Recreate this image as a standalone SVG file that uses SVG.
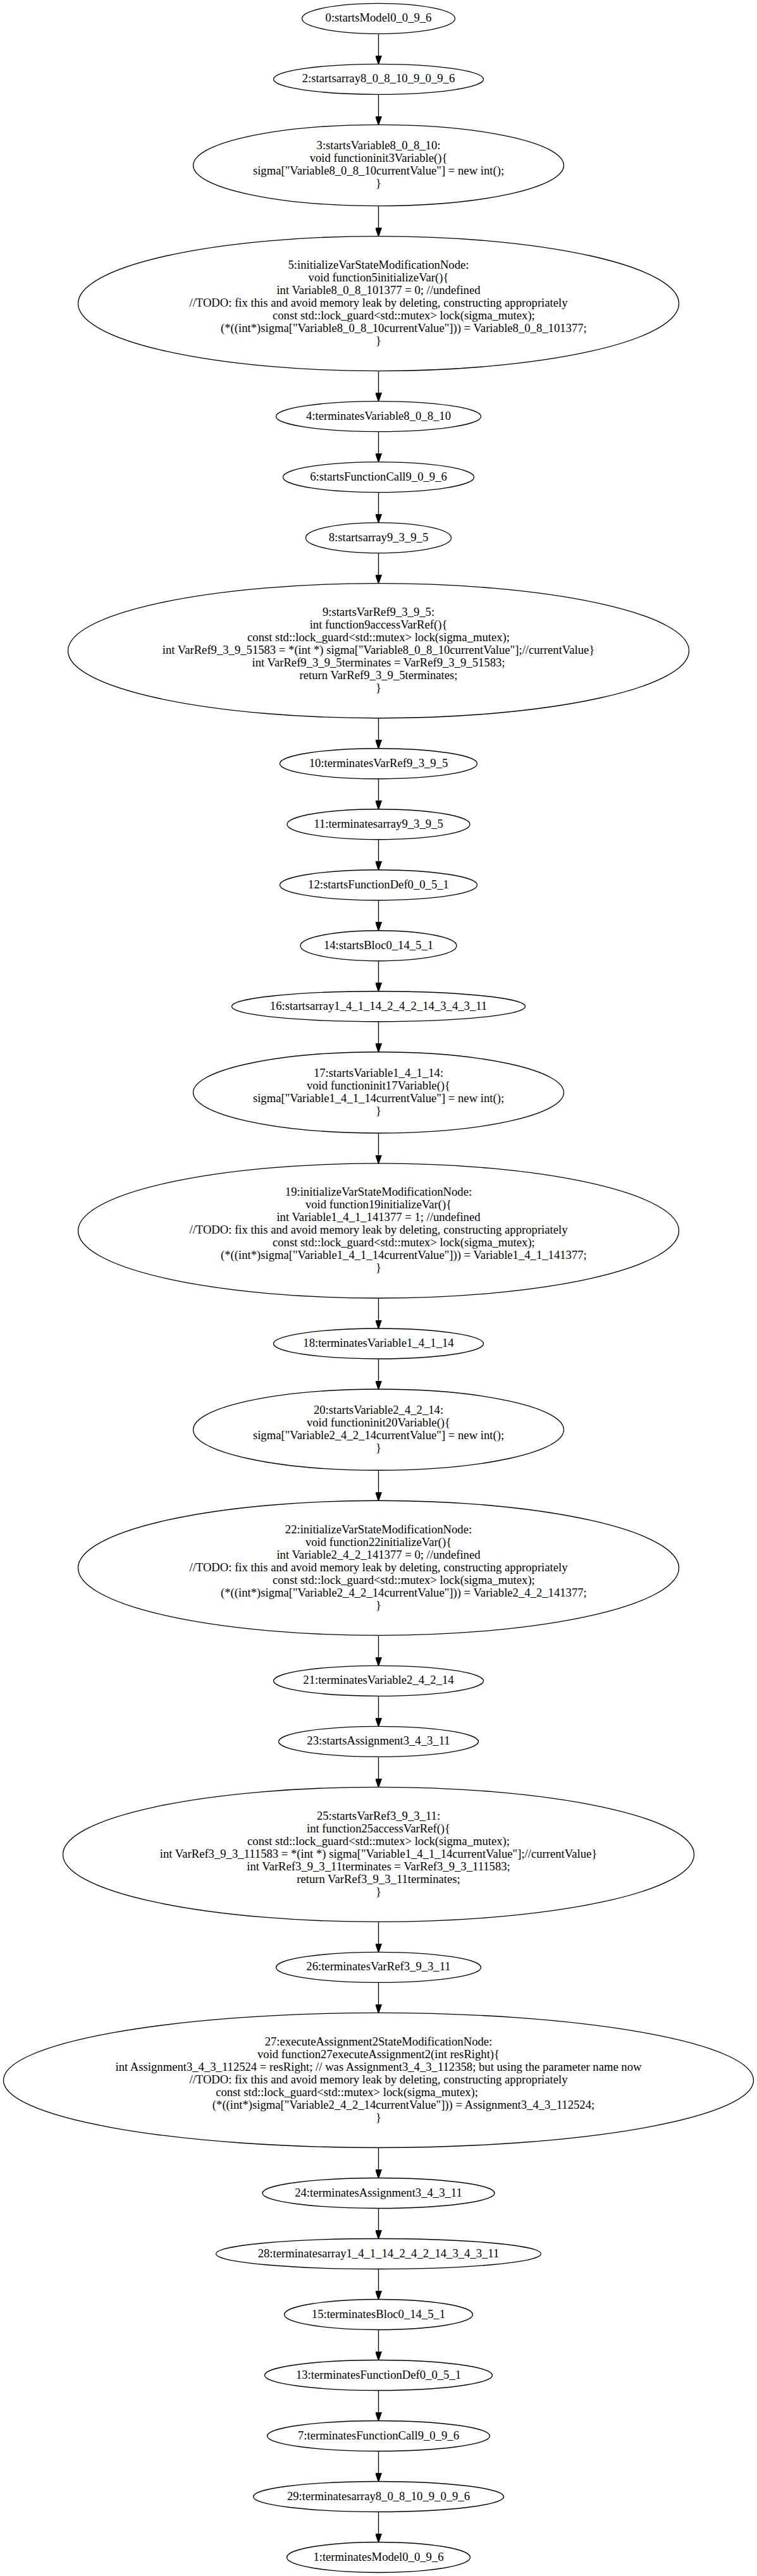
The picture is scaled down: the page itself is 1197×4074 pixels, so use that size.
<svg xmlns="http://www.w3.org/2000/svg" width="1197" height="4074" viewBox="0 0 1197 4074" xml:space="preserve">
<style>
.n ellipse{fill:none;stroke:#000;stroke-width:1.33}
.n text{font-family:"Liberation Serif","Times New Roman",Times,serif;font-size:18.67px;text-anchor:middle;fill:#000}
#edges line{stroke:#000;stroke-width:1.33}
</style>
<defs>
<marker id="ah" markerUnits="userSpaceOnUse" markerWidth="14" markerHeight="10" refX="0" refY="4.67" orient="auto" viewBox="0 0 13.33 9.33">
<path d="M0,0 L13.33,4.67 L0,9.33 Z" fill="#000" stroke="#000" stroke-width="1"/>
</marker>
</defs>
<rect width="1197" height="4074" fill="#fff"/>
<g id="edges">
<line x1="598.5" y1="53.33" x2="598.5" y2="88" marker-end="url(#ah)"/>
<line x1="598.5" y1="149.33" x2="598.5" y2="184" marker-end="url(#ah)"/>
<line x1="598.5" y1="325.56" x2="598.5" y2="360.23" marker-end="url(#ah)"/>
<line x1="598.5" y1="586.64" x2="598.5" y2="621.31" marker-end="url(#ah)"/>
<line x1="598.5" y1="682.64" x2="598.5" y2="717.31" marker-end="url(#ah)"/>
<line x1="598.5" y1="778.64" x2="598.5" y2="813.31" marker-end="url(#ah)"/>
<line x1="598.5" y1="874.64" x2="598.5" y2="909.31" marker-end="url(#ah)"/>
<line x1="598.5" y1="1135.72" x2="598.5" y2="1170.39" marker-end="url(#ah)"/>
<line x1="598.5" y1="1231.72" x2="598.5" y2="1266.39" marker-end="url(#ah)"/>
<line x1="598.5" y1="1327.72" x2="598.5" y2="1362.39" marker-end="url(#ah)"/>
<line x1="598.5" y1="1423.72" x2="598.5" y2="1458.39" marker-end="url(#ah)"/>
<line x1="598.5" y1="1519.72" x2="598.5" y2="1554.39" marker-end="url(#ah)"/>
<line x1="598.5" y1="1615.72" x2="598.5" y2="1650.39" marker-end="url(#ah)"/>
<line x1="598.5" y1="1791.95" x2="598.5" y2="1826.62" marker-end="url(#ah)"/>
<line x1="598.5" y1="2053.03" x2="598.5" y2="2087.7" marker-end="url(#ah)"/>
<line x1="598.5" y1="2149.03" x2="598.5" y2="2183.7" marker-end="url(#ah)"/>
<line x1="598.5" y1="2325.26" x2="598.5" y2="2359.93" marker-end="url(#ah)"/>
<line x1="598.5" y1="2586.34" x2="598.5" y2="2621.01" marker-end="url(#ah)"/>
<line x1="598.5" y1="2682.34" x2="598.5" y2="2717.01" marker-end="url(#ah)"/>
<line x1="598.5" y1="2778.34" x2="598.5" y2="2813.01" marker-end="url(#ah)"/>
<line x1="598.5" y1="3039.42" x2="598.5" y2="3074.09" marker-end="url(#ah)"/>
<line x1="598.5" y1="3135.42" x2="598.5" y2="3170.09" marker-end="url(#ah)"/>
<line x1="598.5" y1="3396.5" x2="598.5" y2="3431.17" marker-end="url(#ah)"/>
<line x1="598.5" y1="3492.5" x2="598.5" y2="3527.17" marker-end="url(#ah)"/>
<line x1="598.5" y1="3588.5" x2="598.5" y2="3623.17" marker-end="url(#ah)"/>
<line x1="598.5" y1="3684.5" x2="598.5" y2="3719.17" marker-end="url(#ah)"/>
<line x1="598.5" y1="3780.5" x2="598.5" y2="3815.17" marker-end="url(#ah)"/>
<line x1="598.5" y1="3876.5" x2="598.5" y2="3911.17" marker-end="url(#ah)"/>
<line x1="598.5" y1="3972.5" x2="598.5" y2="4007.17" marker-end="url(#ah)"/>
</g>
<g id="node0" class="n"><ellipse cx="598.5" cy="29.33" rx="121" ry="24"/><text x="598.5" y="34.33">0:startsModel0_0_9_6</text></g>
<g id="node2" class="n"><ellipse cx="598.5" cy="125.33" rx="166" ry="24"/><text x="598.5" y="130.33">2:startsarray8_0_8_10_9_0_9_6</text></g>
<g id="node3" class="n"><ellipse cx="598.5" cy="261.45" rx="293" ry="64.12"/><text><tspan x="598.5" y="236.45">3:startsVariable8_0_8_10:</tspan><tspan x="598.5" y="256.45">void functioninit3Variable(){</tspan><tspan x="598.5" y="276.45">sigma["Variable8_0_8_10currentValue"] = new int();</tspan><tspan x="598.5" y="296.45">}</tspan></text></g>
<g id="node5" class="n"><ellipse cx="598.5" cy="480.1" rx="475" ry="106.54"/><text><tspan x="598.5" y="425.1">5:initializeVarStateModificationNode:</tspan><tspan x="598.5" y="445.1">void function5initializeVar(){</tspan><tspan x="598.5" y="465.1">int Variable8_0_8_101377 = 0; //undefined</tspan><tspan x="598.5" y="485.1">//TODO: fix this and avoid memory leak by deleting, constructing appropriately</tspan><tspan x="638.4" y="505.1">const std::lock_guard&lt;std::mutex&gt; lock(sigma_mutex);</tspan><tspan x="638.4" y="525.1">(*((int*)sigma["Variable8_0_8_10currentValue"])) = Variable8_0_8_101377;</tspan><tspan x="598.5" y="545.1">}</tspan></text></g>
<g id="node4" class="n"><ellipse cx="598.5" cy="658.64" rx="162" ry="24"/><text x="598.5" y="663.64">4:terminatesVariable8_0_8_10</text></g>
<g id="node6" class="n"><ellipse cx="598.5" cy="754.64" rx="151" ry="24"/><text x="598.5" y="759.64">6:startsFunctionCall9_0_9_6</text></g>
<g id="node8" class="n"><ellipse cx="598.5" cy="850.64" rx="115" ry="24"/><text x="598.5" y="855.64">8:startsarray9_3_9_5</text></g>
<g id="node9" class="n"><ellipse cx="598.5" cy="1029.18" rx="491" ry="106.54"/><text><tspan x="598.5" y="974.18">9:startsVarRef9_3_9_5:</tspan><tspan x="598.5" y="994.18">int function9accessVarRef(){</tspan><tspan x="598.5" y="1014.18">const std::lock_guard&lt;std::mutex&gt; lock(sigma_mutex);</tspan><tspan x="598.5" y="1034.18">int VarRef9_3_9_51583 = *(int *) sigma["Variable8_0_8_10currentValue"];//currentValue}</tspan><tspan x="598.5" y="1054.18">int VarRef9_3_9_5terminates =  VarRef9_3_9_51583;</tspan><tspan x="598.5" y="1074.18">return VarRef9_3_9_5terminates;</tspan><tspan x="598.5" y="1094.18">}</tspan></text></g>
<g id="node10" class="n"><ellipse cx="598.5" cy="1207.72" rx="156" ry="24"/><text x="598.5" y="1212.72">10:terminatesVarRef9_3_9_5</text></g>
<g id="node11" class="n"><ellipse cx="598.5" cy="1303.72" rx="144.5" ry="24"/><text x="598.5" y="1308.72">11:terminatesarray9_3_9_5</text></g>
<g id="node12" class="n"><ellipse cx="598.5" cy="1399.72" rx="156" ry="24"/><text x="598.5" y="1404.72">12:startsFunctionDef0_0_5_1</text></g>
<g id="node14" class="n"><ellipse cx="598.5" cy="1495.72" rx="123.5" ry="24"/><text x="598.5" y="1500.72">14:startsBloc0_14_5_1</text></g>
<g id="node16" class="n"><ellipse cx="598.5" cy="1591.72" rx="232" ry="24"/><text x="598.5" y="1596.72">16:startsarray1_4_1_14_2_4_2_14_3_4_3_11</text></g>
<g id="node17" class="n"><ellipse cx="598.5" cy="1727.84" rx="293" ry="64.12"/><text><tspan x="598.5" y="1702.84">17:startsVariable1_4_1_14:</tspan><tspan x="598.5" y="1722.84">void functioninit17Variable(){</tspan><tspan x="598.5" y="1742.84">sigma["Variable1_4_1_14currentValue"] = new int();</tspan><tspan x="598.5" y="1762.84">}</tspan></text></g>
<g id="node19" class="n"><ellipse cx="598.5" cy="1946.49" rx="475" ry="106.54"/><text><tspan x="598.5" y="1891.49">19:initializeVarStateModificationNode:</tspan><tspan x="598.5" y="1911.49">void function19initializeVar(){</tspan><tspan x="598.5" y="1931.49">int Variable1_4_1_141377 = 1; //undefined</tspan><tspan x="598.5" y="1951.49">//TODO: fix this and avoid memory leak by deleting, constructing appropriately</tspan><tspan x="638.4" y="1971.49">const std::lock_guard&lt;std::mutex&gt; lock(sigma_mutex);</tspan><tspan x="638.4" y="1991.49">(*((int*)sigma["Variable1_4_1_14currentValue"])) = Variable1_4_1_141377;</tspan><tspan x="598.5" y="2011.49">}</tspan></text></g>
<g id="node18" class="n"><ellipse cx="598.5" cy="2125.03" rx="166" ry="24"/><text x="598.5" y="2130.03">18:terminatesVariable1_4_1_14</text></g>
<g id="node20" class="n"><ellipse cx="598.5" cy="2261.15" rx="293" ry="64.12"/><text><tspan x="598.5" y="2236.15">20:startsVariable2_4_2_14:</tspan><tspan x="598.5" y="2256.15">void functioninit20Variable(){</tspan><tspan x="598.5" y="2276.15">sigma["Variable2_4_2_14currentValue"] = new int();</tspan><tspan x="598.5" y="2296.15">}</tspan></text></g>
<g id="node22" class="n"><ellipse cx="598.5" cy="2479.8" rx="475" ry="106.54"/><text><tspan x="598.5" y="2424.8">22:initializeVarStateModificationNode:</tspan><tspan x="598.5" y="2444.8">void function22initializeVar(){</tspan><tspan x="598.5" y="2464.8">int Variable2_4_2_141377 = 0; //undefined</tspan><tspan x="598.5" y="2484.8">//TODO: fix this and avoid memory leak by deleting, constructing appropriately</tspan><tspan x="638.4" y="2504.8">const std::lock_guard&lt;std::mutex&gt; lock(sigma_mutex);</tspan><tspan x="638.4" y="2524.8">(*((int*)sigma["Variable2_4_2_14currentValue"])) = Variable2_4_2_141377;</tspan><tspan x="598.5" y="2544.8">}</tspan></text></g>
<g id="node21" class="n"><ellipse cx="598.5" cy="2658.34" rx="166" ry="24"/><text x="598.5" y="2663.34">21:terminatesVariable2_4_2_14</text></g>
<g id="node23" class="n"><ellipse cx="598.5" cy="2754.34" rx="158" ry="24"/><text x="598.5" y="2759.34">23:startsAssignment3_4_3_11</text></g>
<g id="node25" class="n"><ellipse cx="598.5" cy="2932.88" rx="499" ry="106.54"/><text><tspan x="598.5" y="2877.88">25:startsVarRef3_9_3_11:</tspan><tspan x="598.5" y="2897.88">int function25accessVarRef(){</tspan><tspan x="598.5" y="2917.88">const std::lock_guard&lt;std::mutex&gt; lock(sigma_mutex);</tspan><tspan x="598.5" y="2937.88">int VarRef3_9_3_111583 = *(int *) sigma["Variable1_4_1_14currentValue"];//currentValue}</tspan><tspan x="598.5" y="2957.88">int VarRef3_9_3_11terminates =  VarRef3_9_3_111583;</tspan><tspan x="598.5" y="2977.88">return VarRef3_9_3_11terminates;</tspan><tspan x="598.5" y="2997.88">}</tspan></text></g>
<g id="node26" class="n"><ellipse cx="598.5" cy="3111.42" rx="162" ry="24"/><text x="598.5" y="3116.42">26:terminatesVarRef3_9_3_11</text></g>
<g id="node27" class="n"><ellipse cx="598.5" cy="3289.96" rx="593" ry="106.54"/><text><tspan x="598.5" y="3234.96">27:executeAssignment2StateModificationNode:</tspan><tspan x="598.5" y="3254.96">void function27executeAssignment2(int resRight){</tspan><tspan x="598.5" y="3274.96">int Assignment3_4_3_112524 = resRight; // was Assignment3_4_3_112358; but using the parameter name now</tspan><tspan x="598.5" y="3294.96">//TODO: fix this and avoid memory leak by deleting, constructing appropriately</tspan><tspan x="548.6" y="3314.96">const std::lock_guard&lt;std::mutex&gt; lock(sigma_mutex);</tspan><tspan x="638" y="3334.96">(*((int*)sigma["Variable2_4_2_14currentValue"])) = Assignment3_4_3_112524;</tspan><tspan x="598.5" y="3354.96">}</tspan></text></g>
<g id="node24" class="n"><ellipse cx="598.5" cy="3468.5" rx="183.5" ry="24"/><text x="598.5" y="3473.5">24:terminatesAssignment3_4_3_11</text></g>
<g id="node28" class="n"><ellipse cx="598.5" cy="3564.5" rx="257" ry="24"/><text x="598.5" y="3569.5">28:terminatesarray1_4_1_14_2_4_2_14_3_4_3_11</text></g>
<g id="node15" class="n"><ellipse cx="598.5" cy="3660.5" rx="149" ry="24"/><text x="598.5" y="3665.5">15:terminatesBloc0_14_5_1</text></g>
<g id="node13" class="n"><ellipse cx="598.5" cy="3756.5" rx="180" ry="24"/><text x="598.5" y="3761.5">13:terminatesFunctionDef0_0_5_1</text></g>
<g id="node7" class="n"><ellipse cx="598.5" cy="3852.5" rx="176" ry="24"/><text x="598.5" y="3857.5">7:terminatesFunctionCall9_0_9_6</text></g>
<g id="node29" class="n"><ellipse cx="598.5" cy="3948.5" rx="198" ry="24"/><text x="598.5" y="3953.5">29:terminatesarray8_0_8_10_9_0_9_6</text></g>
<g id="node1" class="n"><ellipse cx="598.5" cy="4044.5" rx="145" ry="24"/><text x="598.5" y="4049.5">1:terminatesModel0_0_9_6</text></g>
</svg>
